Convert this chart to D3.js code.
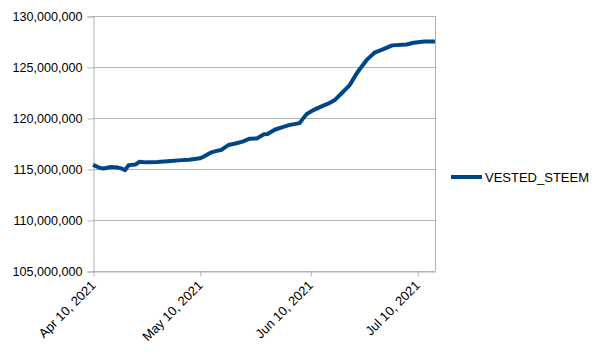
<!DOCTYPE html>
<html lang="en">
<head>
<meta charset="UTF-8">
<title>VESTED_STEEM</title>
<script src="https://d3js.org/d3.v7.min.js"></script>
<style>
    body { margin: 0; background: #fff; }
    svg { display: block; font-family: "Liberation Sans", Arial, sans-serif; }
</style>
</head>
<body>
<div id="chart"></div>
<script>
// dates (YYYY-MM-DD) and values
const dates = [
    "2021-04-10","2021-04-12","2021-04-13","2021-04-15","2021-04-17","2021-04-18","2021-04-19",
    "2021-04-20","2021-04-22","2021-04-23","2021-04-25","2021-04-28","2021-05-01","2021-05-05",
    "2021-05-07","2021-05-10","2021-05-11","2021-05-13","2021-05-15","2021-05-16","2021-05-18",
    "2021-05-20","2021-05-22","2021-05-24","2021-05-26","2021-05-28","2021-05-29","2021-05-31",
    "2021-06-02","2021-06-04","2021-06-07","2021-06-08","2021-06-09","2021-06-11","2021-06-13",
    "2021-06-15","2021-06-17","2021-06-19","2021-06-21","2021-06-23","2021-06-24","2021-06-26",
    "2021-06-28","2021-06-30","2021-07-02","2021-07-03","2021-07-07","2021-07-09","2021-07-12",
    "2021-07-15"
];
const vestedSteem = [
    115400000, 115100000, 115050000, 115200000, 115140000, 115050000, 114880000,
    115380000, 115450000, 115700000, 115650000, 115680000, 115760000, 115870000,
    115900000, 116050000, 116200000, 116600000, 116800000, 116870000, 117350000,
    117500000, 117680000, 117970000, 118000000, 118400000, 118430000, 118850000,
    119080000, 119300000, 119500000, 119960000, 120400000, 120800000, 121120000,
    121400000, 121800000, 122500000, 123200000, 124360000, 124850000, 125750000,
    126400000, 126680000, 126980000, 127120000, 127200000, 127380000, 127500000,
    127500000
];
const yTicks = [105000000, 110000000, 115000000, 120000000, 125000000, 130000000];
const xTicks = ["2021-04-10", "2021-05-10", "2021-06-10", "2021-07-10"];
const seriesName = "VESTED_STEEM";

const width = 604, height = 354;
const margin = { top: 16, right: 169, bottom: 83, left: 93 };
const parse = d3.utcParse("%Y-%m-%d");
const data = dates.map((d, i) => ({ date: parse(d), value: vestedSteem[i] }));

const svg = d3.select("#chart").append("svg")
    .attr("width", width)
    .attr("height", height);

const x = d3.scaleUtc()
    .domain([parse("2021-04-10"), parse("2021-07-15")])
    .range([margin.left, width - margin.right]);

const y = d3.scaleLinear()
    .domain([105000000, 130000000])
    .range([height - margin.bottom, margin.top]);

const grid = "#b3b3b3";

// horizontal grid lines
svg.append("g")
    .selectAll("line")
    .data(yTicks)
    .join("line")
    .attr("x1", margin.left)
    .attr("x2", width - margin.right)
    .attr("y1", d => Math.round(y(d)) + 0.5)
    .attr("y2", d => Math.round(y(d)) + 0.5)
    .attr("stroke", grid);

// right border
svg.append("line")
    .attr("x1", width - margin.right + 0.5)
    .attr("x2", width - margin.right + 0.5)
    .attr("y1", margin.top)
    .attr("y2", height - margin.bottom)
    .attr("stroke", grid);

// y axis
const yAxis = svg.append("g")
    .attr("transform", `translate(${margin.left + 0.5},0.5)`)
    .call(d3.axisLeft(y).tickValues(yTicks).tickFormat(d3.format(",")).tickSize(6).tickPadding(5));
yAxis.selectAll("line, path").attr("stroke", grid);
yAxis.selectAll("text").attr("font-size", 12.6).attr("fill", "#000").attr("font-family", "Liberation Sans, Arial, sans-serif");

// x axis
const xAxis = svg.append("g")
    .attr("transform", `translate(0.5,${height - margin.bottom + 0.5})`)
    .call(d3.axisBottom(x).tickValues(xTicks.map(parse)).tickFormat(d3.utcFormat("%b %-d, %Y")).tickSize(5).tickSizeOuter(0));
xAxis.selectAll("line, path").attr("stroke", grid);
xAxis.selectAll("text")
    .attr("font-size", 13)
    .attr("fill", "#000")
    .attr("font-family", "Liberation Sans, Arial, sans-serif")
    .attr("text-anchor", "end")
    .attr("dy", 0)
    .attr("transform", "translate(-3,9) rotate(-45)");

// series line
svg.append("path")
    .datum(data)
    .attr("fill", "none")
    .attr("stroke", "#004586")
    .attr("stroke-width", 4)
    .attr("stroke-linejoin", "round")
    .attr("d", d3.line().x(d => x(d.date)).y(d => y(d.value)));

// legend
const legend = svg.append("g").attr("transform", "translate(451,177)");
legend.append("line")
    .attr("x1", 0).attr("x2", 31)
    .attr("stroke", "#004586").attr("stroke-width", 4);
legend.append("text")
    .attr("x", 34).attr("y", 5)
    .attr("font-size", 13)
    .text(seriesName);
</script>
</body>
</html>
